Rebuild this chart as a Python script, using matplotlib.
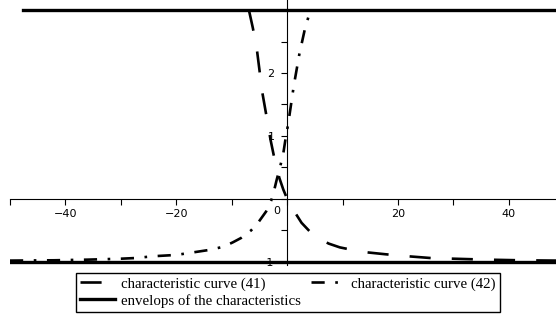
import matplotlib

matplotlib.use("Agg")

import matplotlib.pyplot as plt
from matplotlib.ticker import FixedLocator, MultipleLocator

# characteristic curve (41)
c41_x = [-6.9, -6.2, -5.5, -5.0, -4.5, -3.8, -3.0, -2.2, -1.4, -0.7, 0.0, 1.3, 2.6, 4.0,
         5.5, 7.5, 9.5, 13.4, 17.8, 21.6, 26.0, 30.0, 36.0, 42.0, 48.5]
c41_y = [3.0, 2.72, 2.40, 2.05, 1.70, 1.35, 0.94, 0.60, 0.33, 0.15, 0.0, -0.20, -0.38, -0.51,
         -0.62, -0.71, -0.77, -0.84, -0.88, -0.91, -0.94, -0.95, -0.965, -0.975, -0.98]

# characteristic curve (42)
c42_x = [-50.0, -42.0, -36.0, -30.0, -27.5, -24.0, -20.0, -17.0, -14.0, -11.5, -9.8, -8.3,
         -6.5, -5.1, -3.8, -2.9, -2.5, -1.9, -1.3, -0.7, -0.3, 0.2, 0.7, 1.2, 1.7, 2.2,
         2.7, 3.2, 3.7, 4.2]
c42_y = [-0.98, -0.975, -0.965, -0.95, -0.94, -0.91, -0.89, -0.85, -0.81, -0.76, -0.69, -0.62,
         -0.50, -0.36, -0.20, -0.03, 0.08, 0.30, 0.50, 0.72, 0.95, 1.20, 1.50, 1.80, 2.05, 2.30,
         2.50, 2.70, 2.85, 3.0]

# envelopes of the characteristics
env_top_x = [-47.7, 48.5]
env_top_y = [3.0, 3.0]
env_bot_x = [-50.0, 48.5]
env_bot_y = [-1.0, -1.0]

xtick_vals = [-40, -20, 20, 40]
ytick_vals = [-1, 1, 2]

fig = plt.figure(figsize=(5.56, 3.14), dpi=100)
ax = fig.add_axes([10 / 556, 49 / 314, 546 / 556, 265 / 314])
ax.set_xlim(-50, 48.5)
ax.set_ylim(-1.05, 3.16)

lw = 1.9
l41, = ax.plot(c41_x, c41_y, color="black", lw=lw, linestyle=(0, (8, 8)),
               solid_capstyle="butt", label="characteristic curve (41)")
l42, = ax.plot(c42_x, c42_y, color="black", lw=lw, linestyle=(0, (5, 4, 1, 4)),
               label="characteristic curve (42)")
env, = ax.plot(env_top_x, env_top_y, color="black", lw=2.4, zorder=3,
               label="envelops of the characteristics")
ax.plot(env_bot_x, env_bot_y, color="black", lw=2.4, zorder=3)

for side in ["top", "right"]:
    ax.spines[side].set_visible(False)
ax.spines["left"].set_position(("data", 0))
ax.spines["bottom"].set_position(("data", 0))
ax.spines["left"].set_linewidth(0.8)
ax.spines["bottom"].set_linewidth(0.8)

ax.xaxis.set_major_locator(FixedLocator(xtick_vals))
ax.xaxis.set_minor_locator(MultipleLocator(10))
ax.yaxis.set_major_locator(FixedLocator(ytick_vals))
ax.yaxis.set_minor_locator(MultipleLocator(0.5))
ax.set_xticklabels([f"\u2212{abs(v)}" if v < 0 else str(v) for v in xtick_vals])
ax.set_yticklabels([f"\u2212{abs(v)}" if v < 0 else str(v) for v in ytick_vals])
ax.tick_params(which="both", direction="out", length=4, width=0.8, labelsize=8, color="black")
ax.tick_params(axis="y", pad=5)
ax.text(-1.2, -0.12, "0", fontsize=8, ha="right", va="top")

fig.legend(handles=[l41, env, l42], loc="lower left", bbox_to_anchor=(76 / 556, 2 / 314),
           ncol=2, frameon=True, fancybox=False, edgecolor="black", framealpha=1,
           prop={"family": "Liberation Serif", "size": 10.7}, handlelength=2.3,
           borderpad=0.3, labelspacing=0.2, columnspacing=0.7, handletextpad=0.4,
           borderaxespad=0)

fig.savefig("out.png", dpi=100)
